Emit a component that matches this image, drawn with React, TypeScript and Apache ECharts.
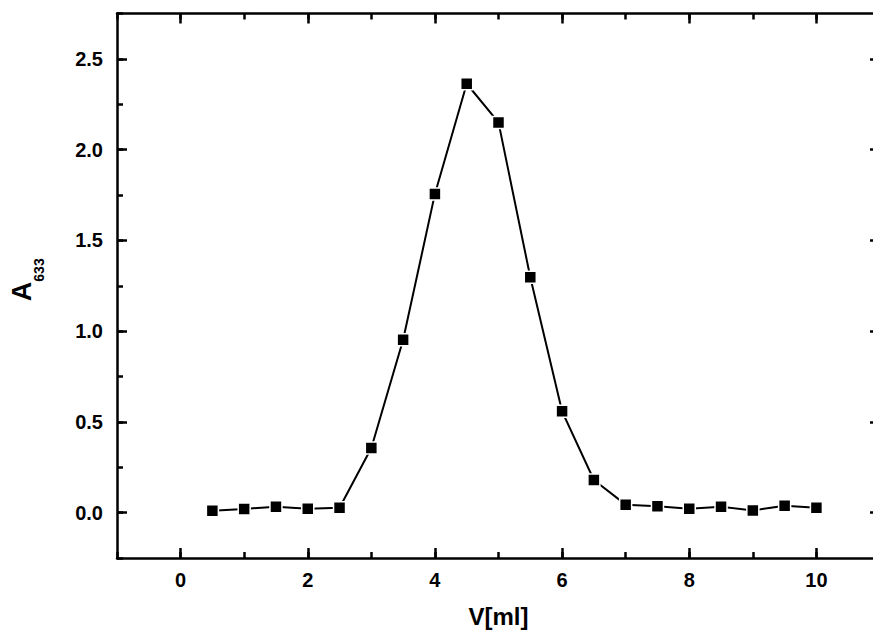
import React, { useEffect, useRef } from "react";
import * as echarts from "echarts";

const volumes = [0.5, 1, 1.5, 2, 2.5, 3, 3.5, 4, 4.5, 5, 5.5, 6, 6.5, 7, 7.5, 8, 8.5, 9, 9.5, 10];
const absorbance = [0.01, 0.02, 0.033, 0.022, 0.027, 0.356, 0.952, 1.756, 2.363, 2.15, 1.297, 0.558, 0.18, 0.044, 0.035, 0.022, 0.033, 0.012, 0.038, 0.027];
const xMajorTicks = [0, 2, 4, 6, 8, 10];
const yMajorTicks = [0, 0.5, 1.0, 1.5, 2.0, 2.5];

const X_MIN = -1;
const X_MAX = 11;
const Y_MIN = -0.25;
const Y_MAX = 2.75;

const FONT = "Liberation Sans, Arial, Helvetica, sans-serif";
const AXIS_W = 2.5;

export default function App() {
  const ref = useRef<HTMLDivElement>(null);
  useEffect(() => {
    if (!ref.current) return;
    const chart = echarts.init(ref.current, null, { renderer: "svg" });
    const lineStyle = { color: "#000", width: AXIS_W };
    const labelStyle = {
      color: "#000",
      fontFamily: FONT,
      fontSize: 20,
      fontWeight: "bold" as const,
    };
    const xBase = {
      type: "value" as const,
      min: X_MIN,
      max: X_MAX,
      splitLine: { show: false },
    };
    const yBase = {
      type: "value" as const,
      min: Y_MIN,
      max: Y_MAX,
      splitLine: { show: false },
    };
    const option: any = {
      animation: false,
      backgroundColor: "#fff",
      grid: { left: 117, top: 13.5, width: 763, height: 549, containLabel: false },
      xAxis: [
        {
          ...xBase,
          position: "bottom",
          axisLine: { show: true, onZero: false, lineStyle },
          axisTick: { show: true, inside: true, length: 10, customValues: xMajorTicks, lineStyle: { color: "#000", width: 2.5 } },
          axisLabel: { show: true, customValues: xMajorTicks, margin: 12, formatter: (v: number) => String(v), ...labelStyle },
          name: "V[ml]",
          nameLocation: "middle",
          nameGap: 46,
          nameTextStyle: { color: "#000", fontFamily: FONT, fontSize: 24, fontWeight: "bold" },
        },
        {
          ...xBase,
          position: "bottom",
          interval: 1,
          axisLine: { show: false, onZero: false },
          axisTick: { show: true, inside: true, length: 6, lineStyle: { color: "#000", width: 2.5 } },
          axisLabel: { show: false },
        },
        {
          ...xBase,
          position: "top",
          axisLine: { show: true, onZero: false, lineStyle },
          axisTick: { show: true, inside: true, length: 10, customValues: xMajorTicks, lineStyle: { color: "#000", width: 2.5 } },
          axisLabel: { show: false },
        },
        {
          ...xBase,
          position: "top",
          interval: 1,
          axisLine: { show: false, onZero: false },
          axisTick: { show: true, inside: true, length: 6, lineStyle: { color: "#000", width: 2.5 } },
          axisLabel: { show: false },
        },
      ],
      yAxis: [
        {
          ...yBase,
          position: "left",
          axisLine: { show: true, onZero: false, lineStyle },
          axisTick: { show: true, inside: true, length: 10, customValues: yMajorTicks, lineStyle: { color: "#000", width: 2.5 } },
          axisLabel: { show: true, customValues: yMajorTicks, margin: 14, formatter: (v: number) => v.toFixed(1), ...labelStyle },
          name: "{a|A}{s|633}",
          nameLocation: "middle",
          nameGap: 79,
          nameRotate: 90,
          nameTextStyle: {
            color: "#000",
            fontFamily: FONT,
            fontWeight: "bold",
            rich: {
              a: { fontFamily: FONT, fontWeight: "bold", fontSize: 27, lineHeight: 30, verticalAlign: "top", color: "#000", padding: [0, 0, 0, 12] },
              s: { fontFamily: FONT, fontWeight: "bold", fontSize: 14, lineHeight: 14, padding: [24, 0, 0, 0], verticalAlign: "top", color: "#000" },
            },
          },
        },
        {
          ...yBase,
          position: "left",
          interval: 0.25,
          axisLine: { show: false, onZero: false },
          axisTick: { show: true, inside: true, length: 6, lineStyle: { color: "#000", width: 2.5 } },
          axisLabel: { show: false },
        },
        {
          ...yBase,
          position: "right",
          axisLine: { show: true, onZero: false, lineStyle },
          axisTick: { show: true, inside: true, length: 10, customValues: yMajorTicks, lineStyle: { color: "#000", width: 2.5 } },
          axisLabel: { show: false },
        },
        {
          ...yBase,
          position: "right",
          interval: 0.25,
          axisLine: { show: false, onZero: false },
          axisTick: { show: true, inside: true, length: 6, lineStyle: { color: "#000", width: 2.5 } },
          axisLabel: { show: false },
        },
      ],
      series: [
        {
          type: "line",
          xAxisIndex: 0,
          yAxisIndex: 0,
          data: volumes.map((v, i) => [v, absorbance[i]]),
          symbol: "rect",
          symbolSize: 12,
          showSymbol: true,
          lineStyle: { color: "#000", width: 2 },
          itemStyle: { color: "#000", borderColor: "#fff", borderWidth: 1.5 },
          z: 5,
        },
      ],
    };
    chart.setOption(option);
    return () => chart.dispose();
  }, []);
  return (
    <div style={{ position: "fixed", left: 0, top: 0, width: 873, height: 633, overflow: "hidden", background: "#fff" }}>
      <div ref={ref} style={{ width: 900, height: 633 }} />
    </div>
  );
}
